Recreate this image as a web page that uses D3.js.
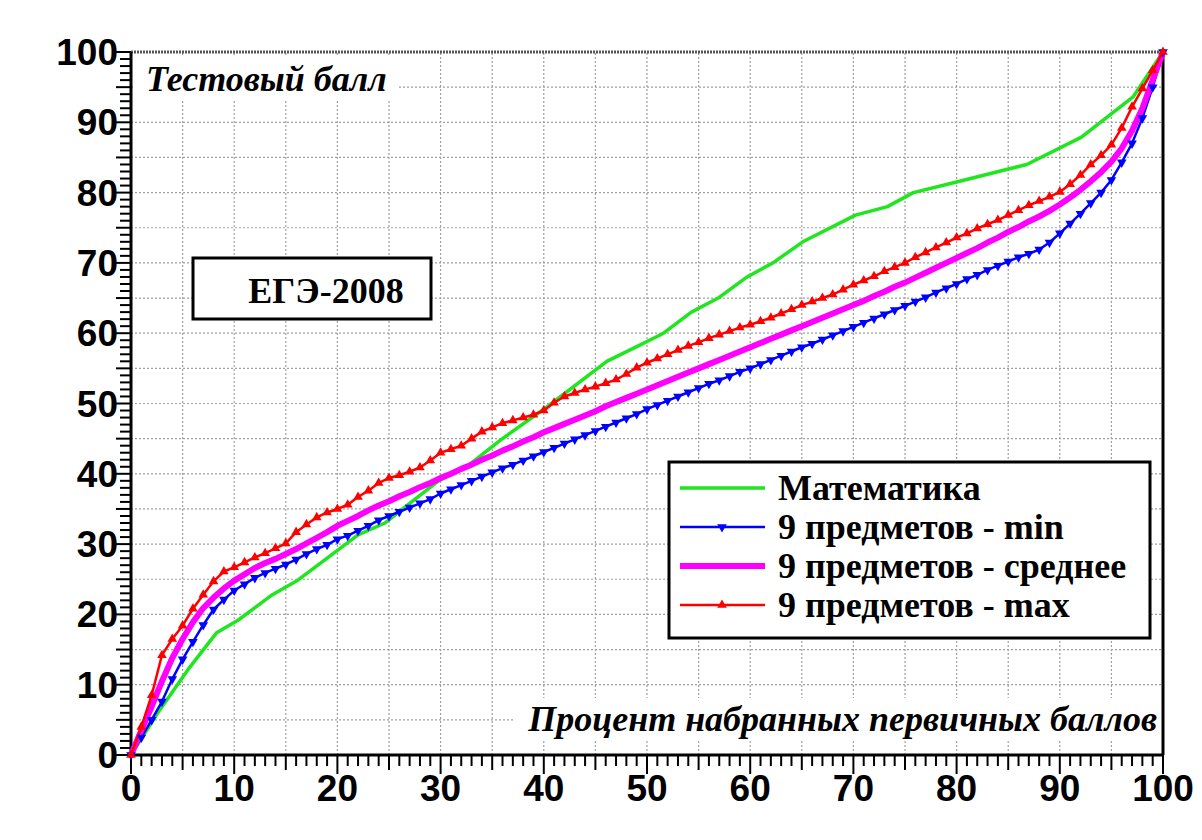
<!DOCTYPE html>
<html lang="ru">
<head>
<meta charset="UTF-8">
<title>ЕГЭ-2008</title>
<script src="https://cdn.jsdelivr.net/npm/d3@7/dist/d3.min.js"></script>
<style>
    body { margin: 0; background: #fff; }
    svg { display: block; }
</style>
</head>
<body>
<div id="chart"></div>
<script>
// проценты первичных баллов (ось X) для рядов "9 предметов"
const pctX = d3.range(0, 101);

// Математика: изломы ломаной
const mathX = [0, 2.6, 5.5, 8.3, 10.4, 13.7, 16.2, 20.1, 22, 24.6, 27, 29.8, 32.5, 35.8, 40.3, 46.1, 49.3, 51.6, 54.3, 56.9, 59.7, 62.2, 65.1, 70.2, 73.3, 75.8, 80, 86.8, 92.1, 97.1, 100];
const mathY = [0, 6, 12.1, 17.4, 19.2, 22.8, 24.9, 29.2, 31.3, 33, 35.8, 39, 41, 44.8, 49.5, 56, 58.3, 60, 63, 65, 68, 70, 73, 76.8, 78, 80, 81.5, 84, 87.9, 93.6, 100];

// 9 предметов - min
const minY = [0, 2.5, 5, 7.6, 10.8, 13.6, 16.1, 18.5, 20.7, 22.1,
    23.4, 24.3, 25.2, 25.9, 26.5, 27.1, 27.8, 28.6, 29.3, 29.9,
    30.7, 31.2, 31.9, 32.6, 33.4, 34.0, 34.6, 35.2, 35.8, 36.4,
    37.2, 37.8, 38.4, 39.0, 39.6, 40.2, 40.8, 41.3, 41.9, 42.5,
    43.1, 43.7, 44.3, 44.9, 45.5, 46.1, 46.7, 47.3, 47.9, 48.5,
    49.2, 49.8, 50.4, 51.0, 51.6, 52.2, 52.8, 53.3, 53.9, 54.5,
    55.0, 55.6, 56.2, 56.8, 57.4, 58.0, 58.5, 59.1, 59.7, 60.3,
    60.9, 61.5, 62.1, 62.7, 63.3, 63.9, 64.5, 65.1, 65.8, 66.4,
    67.0, 67.7, 68.3, 69.0, 69.6, 70.2, 70.8, 71.3, 71.9, 72.9,
    74.2, 75.6, 77.0, 78.5, 80.0, 81.8, 84.3, 87.0, 90.6, 95.0, 100];

// 9 предметов - среднее
const meanY = [0, 3.5, 6.9, 10.5, 13.8, 16.5, 18.9, 20.9, 22.4, 23.7,
    24.8, 25.7, 26.6, 27.3, 27.9, 28.6, 29.3, 30.1, 30.9, 31.7,
    32.6, 33.3, 34.0, 34.8, 35.5, 36.1, 36.8, 37.4, 38.1, 38.7,
    39.4, 40.0, 40.7, 41.3, 42.0, 42.6, 43.3, 43.9, 44.6, 45.2,
    45.9, 46.5, 47.1, 47.7, 48.3, 48.9, 49.6, 50.2, 50.8, 51.4,
    52.0, 52.6, 53.2, 53.8, 54.4, 55.0, 55.6, 56.2, 56.8, 57.4,
    58.0, 58.6, 59.2, 59.8, 60.4, 61.0, 61.6, 62.2, 62.8, 63.4,
    64.0, 64.6, 65.3, 65.9, 66.6, 67.2, 67.9, 68.6, 69.3, 70.0,
    70.7, 71.4, 72.1, 72.9, 73.6, 74.4, 75.1, 75.9, 76.6, 77.4,
    78.3, 79.3, 80.4, 81.6, 82.9, 84.4, 86.3, 88.8, 92.0, 96.0, 100];

// 9 предметов - max
const maxY = [0, 4.0, 8.5, 14.2, 16.5, 18.4, 20.8, 22.8, 24.7, 26.1,
    26.7, 27.4, 28.1, 28.7, 29.4, 30.1, 31.7, 32.8, 33.8, 34.5,
    35.0, 35.6, 36.7, 37.6, 38.7, 39.4, 39.8, 40.3, 40.9, 41.9,
    43.0, 43.5, 44.0, 45.0, 46.0, 46.6, 47.2, 47.6, 48.0, 48.4,
    49.0, 50.1, 51.0, 51.5, 52.0, 52.4, 52.9, 53.4, 54.2, 55.1,
    55.8, 56.4, 57.0, 57.6, 58.2, 58.7, 59.3, 59.8, 60.3, 60.8,
    61.2, 61.7, 62.2, 62.8, 63.4, 64.0, 64.5, 65.0, 65.5, 66.2,
    66.9, 67.5, 68.1, 68.8, 69.4, 70.0, 70.8, 71.5, 72.2, 72.9,
    73.6, 74.2, 74.9, 75.5, 76.1, 76.8, 77.5, 78.2, 78.8, 79.4,
    80.1, 81.2, 82.5, 84.0, 85.3, 86.8, 89.2, 92.2, 94.8, 97.4, 100];

const seriesNames = ["Математика", "9 предметов - min", "9 предметов - среднее", "9 предметов - max"];
const tickLabels = [0, 10, 20, 30, 40, 50, 60, 70, 80, 90, 100];

const width = 1202, height = 840;

const x = d3.scaleLinear().domain([0, 100]).range([131, 1163]);
const y = d3.scaleLinear().domain([0, 100]).range([755, 52]);

const serif = "'Liberation Serif', 'Times New Roman', serif";
const axisFont = "'Liberation Sans', Arial, sans-serif";

const svg = d3.select("#chart").append("svg")
    .attr("width", width)
    .attr("height", height);

svg.append("rect").attr("width", width).attr("height", height).attr("fill", "#fff");

// сетка (пунктир)
const grid = svg.append("g")
    .attr("stroke", "#a0a0a0")
    .attr("stroke-width", 1.2)
    .attr("stroke-dasharray", "2,2");
grid.selectAll("line.v").data(d3.range(5, 100, 5)).join("line")
    .attr("x1", d => x(d)).attr("x2", d => x(d))
    .attr("y1", y(0)).attr("y2", y(100));
grid.selectAll("line.h").data(d3.range(5, 100, 5)).join("line")
    .attr("x1", x(0)).attr("x2", x(100))
    .attr("y1", d => y(d)).attr("y2", d => y(d));

// верхняя граница - тоже пунктир, но темнее
svg.append("line")
    .attr("x1", x(0)).attr("x2", x(100))
    .attr("y1", y(100)).attr("y2", y(100))
    .attr("stroke", "#555").attr("stroke-width", 3).attr("stroke-dasharray", "2,1");
svg.append("line")
    .attr("x1", x(100)).attr("x2", x(100))
    .attr("y1", y(100)).attr("y2", y(0))
    .attr("stroke", "#000").attr("stroke-width", 3);

// подписи осей внутри поля (с белой подложкой)
svg.append("rect").attr("x", x(0) + 2).attr("y", 56).attr("width", 266).attr("height", 44).attr("fill", "#fff");
svg.append("text")
    .attr("x", 146).attr("y", 91)
    .attr("font-family", serif)
    .attr("font-style", "italic").attr("font-weight", "bold")
    .attr("font-size", 36)
    .text("Тестовый балл");

svg.append("rect").attr("x", 514).attr("y", 698).attr("width", x(100) - 516).attr("height", 42).attr("fill", "#fff");
svg.append("text")
    .attr("x", 1157).attr("y", 731)
    .attr("text-anchor", "end")
    .attr("font-family", serif)
    .attr("font-style", "italic").attr("font-weight", "bold")
    .attr("font-size", 36)
    .text("Процент набранных первичных баллов");

// оси
const axX = svg.append("g").attr("stroke", "#000").attr("stroke-width", 2);
axX.selectAll("line").data(d3.range(0, 101)).join("line")
    .attr("x1", d => x(d)).attr("x2", d => x(d))
    .attr("y1", y(0))
    .attr("y2", d => y(0) + (d % 10 === 0 ? 19 : d % 5 === 0 ? 15 : 11));
const axY = svg.append("g").attr("stroke", "#000").attr("stroke-width", 2);
axY.selectAll("line").data(d3.range(0, 101)).join("line")
    .attr("y1", d => y(d)).attr("y2", d => y(d))
    .attr("x1", x(0))
    .attr("x2", d => x(0) - (d % 10 === 0 ? 19 : d % 5 === 0 ? 15 : 11));

svg.append("line").attr("x1", x(0)).attr("x2", x(100)).attr("y1", y(0)).attr("y2", y(0))
    .attr("stroke", "#000").attr("stroke-width", 3);
svg.append("line").attr("x1", x(0)).attr("x2", x(0)).attr("y1", y(0)).attr("y2", y(100))
    .attr("stroke", "#000").attr("stroke-width", 3);

svg.append("g")
    .attr("font-family", axisFont).attr("font-weight", "bold").attr("font-size", 37)
    .attr("text-anchor", "middle")
    .selectAll("text").data(tickLabels).join("text")
    .attr("x", d => x(d)).attr("y", y(0) + 46)
    .text(d => d);

svg.append("g")
    .attr("font-family", axisFont).attr("font-weight", "bold").attr("font-size", 37)
    .attr("text-anchor", "end")
    .selectAll("text").data(tickLabels).join("text")
    .attr("x", x(0) - 13).attr("y", d => y(d) + 13)
    .text(d => d);

// ряды
const line = d3.line().x(d => x(d[0])).y(d => y(d[1]));

const mathData = mathX.map((v, i) => [v, mathY[i]]);
const minData = pctX.map((v, i) => [v, minY[i]]);
const meanData = pctX.map((v, i) => [v, meanY[i]]);
const maxData = pctX.map((v, i) => [v, maxY[i]]);

const plot = svg.append("g").attr("fill", "none").attr("stroke-linejoin", "round");
plot.append("path").datum(mathData).attr("d", line).attr("stroke", "#1fe61f").attr("stroke-width", 3.5);
plot.append("path").datum(minData).attr("d", line).attr("stroke", "#0000ff").attr("stroke-width", 2.5);
plot.append("path").datum(meanData).attr("d", line).attr("stroke", "#ff00ff").attr("stroke-width", 6);
plot.append("path").datum(maxData).attr("d", line).attr("stroke", "#ff0000").attr("stroke-width", 2.5);

const tri = d3.symbol().type(d3.symbolTriangle).size(40);

svg.append("g").attr("fill", "#0000ff")
    .selectAll("path").data(minData).join("path")
    .attr("d", tri)
    .attr("transform", d => `translate(${x(d[0])},${y(d[1])}) rotate(180)`);

svg.append("g").attr("fill", "#ff0000")
    .selectAll("path").data(maxData).join("path")
    .attr("d", tri)
    .attr("transform", d => `translate(${x(d[0])},${y(d[1])})`);

// плашка ЕГЭ-2008
svg.append("rect").attr("x", 193).attr("y", 258).attr("width", 238).attr("height", 61)
    .attr("fill", "#fff").attr("stroke", "#000").attr("stroke-width", 3);
svg.append("text")
    .attr("x", 326).attr("y", 303)
    .attr("text-anchor", "middle")
    .attr("font-family", serif)
    .attr("font-weight", "bold").attr("font-size", 36)
    .text("ЕГЭ-2008");

// легенда
const legend = svg.append("g");
legend.append("rect").attr("x", 669).attr("y", 462).attr("width", 481).attr("height", 176)
    .attr("fill", "#fff").attr("stroke", "#000").attr("stroke-width", 3);

const legColors = ["#1fe61f", "#0000ff", "#ff00ff", "#ff0000"];
const legWidths = [3.5, 2.5, 6, 2.5];
const legY = [488, 527, 566, 605];

seriesNames.forEach((name, i) => {
    legend.append("line")
        .attr("x1", 680).attr("x2", 765)
        .attr("y1", legY[i]).attr("y2", legY[i])
        .attr("stroke", legColors[i]).attr("stroke-width", legWidths[i]);
    legend.append("text")
        .attr("x", 778).attr("y", legY[i] + 12)
        .attr("font-family", serif)
        .attr("font-weight", "bold").attr("font-size", 36)
        .text(name);
});
legend.append("path").attr("d", tri).attr("fill", "#0000ff")
    .attr("transform", `translate(722,${legY[1]}) rotate(180)`);
legend.append("path").attr("d", tri).attr("fill", "#ff0000")
    .attr("transform", `translate(722,${legY[3]})`);
</script>
</body>
</html>
